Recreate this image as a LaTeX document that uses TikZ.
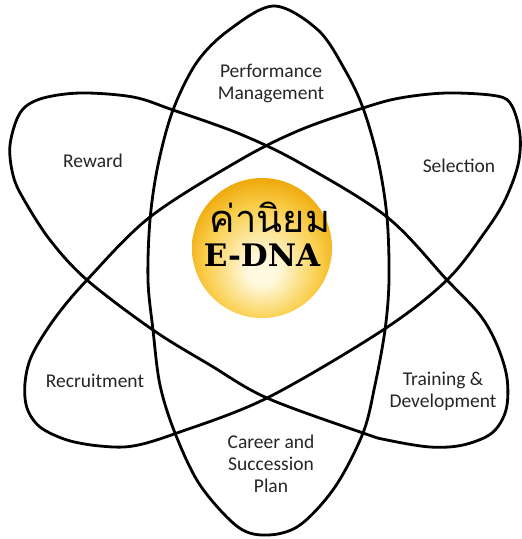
\documentclass[tikz,border=0pt]{standalone}
\usepackage{fontspec}
\setmainfont{Carlito}
\newfontfamily\thaifont[Script=Thai]{Loma}
\newfontfamily\dnafont{DejaVu Serif}
\definecolor{ballin}{HTML}{FFF9E0}
\definecolor{ballmid}{HTML}{FAD050}
\definecolor{ballout}{HTML}{EDA300}
\definecolor{txt}{HTML}{262626}
\pgfdeclareradialshading{eball}{\pgfpoint{0bp}{-9bp}}{color(0bp)=(ballin); color(5bp)=(ballin); color(20bp)=(ballmid); color(30bp)=(ballout); color(50bp)=(ballout)}
\tikzset{
  orbit/.style={draw=black, line width=2.8pt, line join=round},
  lbl/.style={inner sep=0pt, align=center, text=txt, font=\fontsize{19.5}{22}\selectfont}
}
\begin{document}
\begin{tikzpicture}[x=1pt,y=-1pt]
\useasboundingbox[fill=white] (0,0) rectangle (522,539);
% vertical orbit
\draw[orbit] plot[smooth cycle, tension=0.55] coordinates {
 (274,6) (318,30) (345,70) (363,108) (378,160) (387,217) (389,280) (385,330)
 (375,385) (363,433) (335,487) (300,525) (268,535) (238,527) (200,485)
 (175,433) (160,385) (153,330) (148,280) (150,220) (158,165) (173,110)
 (197,62) (229,30)};
% orbit A: Reward -> Training
\draw[orbit] plot[smooth cycle, tension=0.55] coordinates {
 (80,93) (133,97) (173,110) (240,134) (300,163) (387,217) (447,280)
 (480,315) (497,345) (507,378) (506,410) (492,433) (463,445) (430,447)
 (387,440) (363,433) (267,398) (210,365) (153,330) (87,280) (50,240)
 (23,198) (13,175) (10,145) (20,113) (40,99)};
% orbit B: Selection -> Recruitment
\draw[orbit] plot[smooth cycle, tension=0.55] coordinates {
 (447,93) (497,96) (512,106) (520,135) (518,165) (505,200) (485,232)
 (447,280) (383,330) (267,398) (177,433) (133,446) (100,446) (67,440)
 (40,427) (27,408) (25,383) (32,355) (55,318) (87,280) (150,217)
 (240,160) (300,130) (363,108) (400,98)};
% ball
\node[circle, minimum size=140pt, inner sep=0pt, shading=eball] (ball) at (262,248) {};
\node[inner sep=0pt, anchor=base, font=\thaifont\fontsize{38}{38}\selectfont] (thai) at (270,232) {ค่านิยม};
\node[inner sep=0pt, anchor=base, font=\dnafont\bfseries\fontsize{31}{31}\selectfont] (dna) at (262,266) {E-DNA};
% labels
\node[lbl] (pm) at (271,83) {Performance\\Management};
\node[lbl] (rw) at (93,161) {Reward};
\node[lbl] (sel) at (459,166) {Selection};
\node[lbl] (rec) at (95,381) {Recruitment};
\node[lbl] (td) at (443,391) {Training \&\\Development};
\node[lbl] (csp) at (271,464) {Career and\\Succession\\Plan};
\end{tikzpicture}
\end{document}
